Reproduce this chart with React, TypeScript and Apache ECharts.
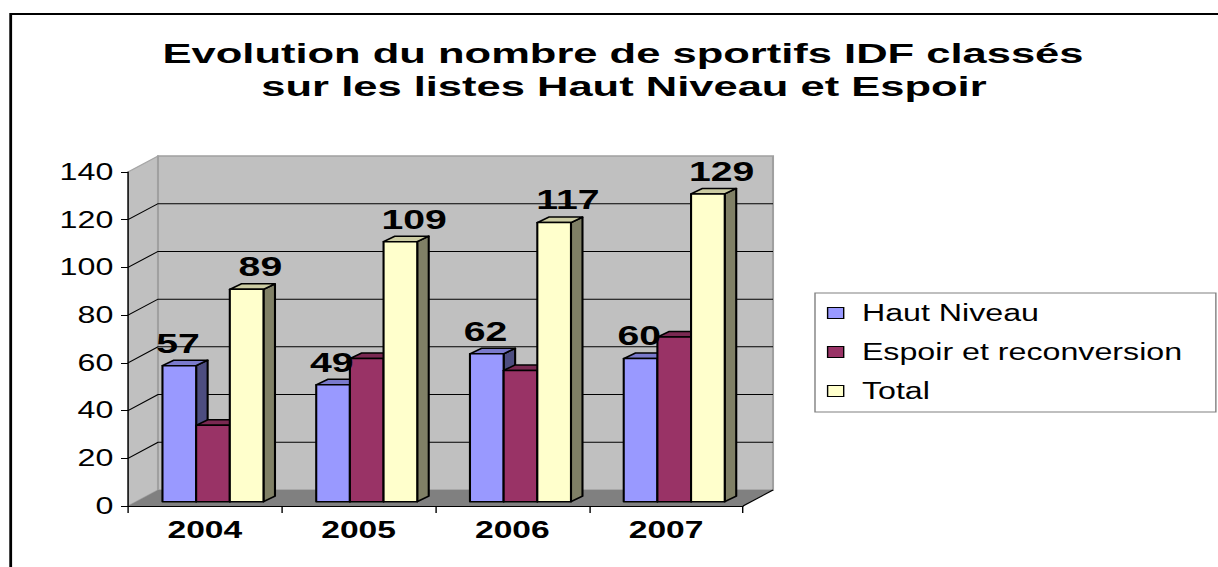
import React, { useEffect, useRef } from "react";
import * as echarts from "echarts";

// ---- data ----
const categories = ["2004", "2005", "2006", "2007"];
const hautNiveau = [57, 49, 62, 60];
const espoir = [32, 60, 55, 69];
const total = [89, 109, 117, 129];
const seriesNames = ["Haut Niveau", "Espoir et reconversion", "Total"];
const yMin = 0;
const yMax = 140;
const yInterval = 20;
const titleLine1 = "Evolution du nombre de sportifs IDF classés";
const titleLine2 = "sur les listes Haut Niveau et Espoir";

// ---- layout / style ----
const S = 1.4; // horizontal stretch of the original picture
const W = 1218 / S;
const H = 567;
const FONT = "Arial, 'Liberation Sans', sans-serif";
const D = { x: 30 / S, y: -16 }; // wall depth
const FRONT_FRAC = 0.27;
const BD = { x: 11.5 / S, y: -5.5 }; // bar depth
const BAR_FRAC = 0.219;
const TITLE_SCALE = 1.11;

const palettes = [
  { front: "#9999ff", top: "#7a7acc", side: "#4d4d80" },
  { front: "#993366", top: "#7a2952", side: "#4d1a33" },
  { front: "#ffffcc", top: "#cccca3", side: "#808066" },
];
const showLabels = [true, false, true];
const labelShift = [-7 / S, 0, 8 / S];

function renderWalls(params: any, api: any) {
  const cs = params.coordSys;
  const x0 = cs.x;
  const x1 = cs.x + cs.width;
  const yT = cs.y;
  const y0 = cs.y + cs.height;
  const dx = D.x;
  const dy = D.y;
  const children: any[] = [];
  children.push({
    type: "polygon",
    shape: { points: [[x0, yT], [x0 + dx, yT + dy], [x0 + dx, y0 + dy], [x0, y0]] },
    style: { fill: "#c0c0c0", stroke: "#a6a6a6", lineWidth: 1 },
  });
  children.push({
    type: "rect",
    shape: { x: x0 + dx, y: yT + dy, width: x1 - x0, height: y0 - yT },
    style: { fill: "#c0c0c0", stroke: "#a0a0a0", lineWidth: 1.5 },
  });
  children.push({
    type: "polygon",
    shape: { points: [[x0, y0], [x0 + dx, y0 + dy], [x1 + dx, y0 + dy], [x1, y0]] },
    style: { fill: "#808080", stroke: "none" },
  });
  for (let v = yMin + yInterval; v < yMax; v += yInterval) {
    const y = api.coord([0, v])[1];
    children.push({
      type: "polyline",
      shape: { points: [[x0, y], [x0 + dx, y + dy], [x1 + dx, y + dy]] },
      style: { fill: "none", stroke: "#000", lineWidth: 1 },
    });
  }
  children.push({
    type: "line",
    shape: { x1: x1, y1: y0, x2: x1 + dx, y2: y0 + dy },
    style: { stroke: "#000", lineWidth: 1 },
  });
  return { type: "group", children };
}

function makeBarRenderer(k: number) {
  const pal = palettes[k];
  return (params: any, api: any) => {
    const i = api.value(0);
    const v = api.value(1);
    const top = api.coord([i, v]);
    const base = api.coord([i, 0]);
    const band = api.size([1, 0])[0];
    const bw = band * BAR_FRAC;
    const fx = D.x * FRONT_FRAC;
    const fy = D.y * FRONT_FRAC;
    const xl = top[0] - 1.5 * bw + k * bw + fx;
    const xr = xl + bw;
    const yt = top[1] + fy;
    const yb = base[1] + fy;
    const bx = BD.x;
    const by = BD.y;
    const stroke = { stroke: "#000", lineWidth: 1.5, lineJoin: "round" };
    const children: any[] = [
      {
        type: "polygon",
        shape: { points: [[xr, yt], [xr + bx, yt + by], [xr + bx, yb + by], [xr, yb]] },
        style: { fill: pal.side, ...stroke },
      },
      {
        type: "polygon",
        shape: { points: [[xl, yt], [xr, yt], [xr + bx, yt + by], [xl + bx, yt + by]] },
        style: { fill: pal.top, ...stroke },
      },
      {
        type: "rect",
        shape: { x: xl, y: yt, width: bw, height: yb - yt },
        style: { fill: pal.front, ...stroke },
      },
    ];
    if (showLabels[k]) {
      children.push({
        type: "text",
        z2: 100,
        x: (xl + xr) / 2 + bx / 2 + labelShift[k],
        y: yt - 9,
        style: {
          text: String(v),
          font: `bold 28px ${FONT}`,
          fill: "#000",
          textAlign: "center",
          textVerticalAlign: "bottom",
        },
      });
    }
    return { type: "group", children };
  };
}

const seriesValues = [hautNiveau, espoir, total];

const option: any = {
  animation: false,
  backgroundColor: "#ffffff",
  grid: {
    left: 128 / S,
    right: W - 743 / S,
    top: 172,
    bottom: H - 506,
  },
  xAxis: {
    type: "category",
    data: categories,
    z: 3,
    boundaryGap: true,
    axisLine: { show: true, lineStyle: { color: "#000", width: 1 } },
    axisTick: { show: true, length: 7, lineStyle: { color: "#000" } },
    axisLabel: {
      color: "#000",
      fontFamily: FONT,
      fontWeight: "bold",
      fontSize: 24,
      margin: 12,
    },
    splitLine: { show: false },
  },
  yAxis: {
    type: "value",
    min: yMin,
    max: yMax,
    interval: yInterval,
    z: 3,
    axisLine: { show: true, lineStyle: { color: "#000", width: 1 } },
    axisTick: { show: true, length: 5, lineStyle: { color: "#000" } },
    axisLabel: { color: "#000", fontFamily: FONT, fontSize: 23, margin: 10.5 },
    splitLine: { show: false },
  },
  legend: {
    data: seriesNames,
    orient: "vertical",
    left: 815 / S,
    top: 293,
    padding: [7, 24, 8, 8.5],
    itemGap: 13,
    itemWidth: 11.5,
    itemHeight: 11,
    icon: "rect",
    backgroundColor: "#fff",
    borderColor: "#808080",
    borderWidth: 1,
    itemStyle: { borderColor: "#000", borderWidth: 1 },
    textStyle: {
      color: "#000",
      fontFamily: FONT,
      fontSize: 23,
      lineHeight: 26,
      padding: [0, 0, 0, 8],
    },
  },
  graphic: [
    {
      type: "rect",
      shape: { x: 10.7 / S, y: 14, width: 2000, height: 2000 },
      style: { fill: "none", stroke: "#000", lineWidth: 2 },
      silent: true,
    },
    {
      type: "text",
      x: 623 / S,
      y: 53,
      scaleX: TITLE_SCALE,
      style: {
        text: titleLine1,
        font: `bold 28px ${FONT}`,
        fill: "#000",
        textAlign: "center",
        textVerticalAlign: "middle",
      },
    },
    {
      type: "text",
      x: 624 / S,
      y: 86,
      scaleX: TITLE_SCALE,
      style: {
        text: titleLine2,
        font: `bold 28px ${FONT}`,
        fill: "#000",
        textAlign: "center",
        textVerticalAlign: "middle",
      },
    },
  ],
  series: [
    {
      type: "custom",
      name: "walls",
      silent: true,
      z: 1,
      renderItem: renderWalls,
      data: [[0, 0]],
      encode: { x: 0, y: 1 },
    },
    ...seriesNames.map((name, k) => ({
      type: "custom",
      name,
      z: 2,
      renderItem: makeBarRenderer(k),
      itemStyle: { color: palettes[k].front, borderColor: "#000", borderWidth: 1 },
      data: seriesValues[k].map((v, i) => [i, v]),
      encode: { x: 0, y: 1 },
    })),
  ],
};

export default function App() {
  const ref = useRef<HTMLDivElement>(null);
  useEffect(() => {
    const chart = echarts.init(ref.current as HTMLDivElement, undefined, { renderer: "svg" });
    chart.setOption(option);
    return () => chart.dispose();
  }, []);
  return (
    <div
      style={{
        position: "fixed",
        left: 0,
        top: 0,
        width: 1218,
        height: 567,
        overflow: "hidden",
        background: "#fff",
      }}
    >
      <div
        ref={ref}
        style={{ width: W, height: H, transform: `scaleX(${S})`, transformOrigin: "0 0" }}
      />
    </div>
  );
}
